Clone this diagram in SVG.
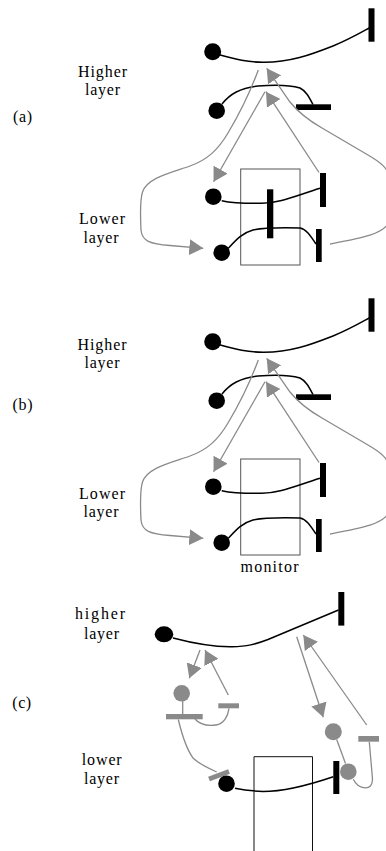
<svg xmlns="http://www.w3.org/2000/svg" width="386" height="851" viewBox="0 0 386 851">
  <style>
    .lbl { font-family: "Liberation Serif", "Times New Roman", serif; font-size: 16px; fill: #000; text-anchor: middle; }
    .wire { fill: none; stroke: #000; stroke-width: 1.5; }
    .link { fill: none; stroke: #8a8a8a; stroke-width: 1.3; }
    .bar { fill: #000; }
    .gbar { fill: #8a8a8a; }
    .dot { fill: #000; }
    .gdot { fill: #8a8a8a; }
    .box { fill: none; stroke: #555; stroke-width: 1; }
    .box-c { fill: none; stroke: #111; stroke-width: 1; }
  </style>
  <defs>
    <marker id="head" viewBox="0 0 14 16" refX="14" refY="8" markerWidth="14" markerHeight="16" markerUnits="userSpaceOnUse" orient="auto">
      <path d="M0,0 L14,8 L0,16 z" fill="#8a8a8a"/>
    </marker>
  </defs>

  <!-- ===== Panel (a) ===== -->
  <g id="a-labels">
    <text class="lbl" x="102.5" y="76.5" textLength="49" lengthAdjust="spacing">Higher</text>
    <text class="lbl" x="102.5" y="94.5" textLength="35" lengthAdjust="spacing">layer</text>
    <text class="lbl" x="22.5" y="121.5" textLength="19" lengthAdjust="spacing">(a)</text>
    <text class="lbl" x="102" y="224" textLength="46" lengthAdjust="spacing">Lower</text>
    <text class="lbl" x="101" y="242.5" textLength="35" lengthAdjust="spacing">layer</text>
  </g>
  <g id="a-high-1">
    <circle class="dot" cx="212.7" cy="51.7" r="8.5"/>
    <path class="wire" d="M220,55 C235,59 245,62 263,62.3 C290,62.5 310,55 333,46 C350,39 360,33 371,27"/>
    <rect class="bar" x="368.5" y="8.3" width="6" height="33.4"/>
  </g>
  <g id="a-high-2">
    <circle class="dot" cx="216.7" cy="110.7" r="8.3"/>
    <path class="wire" d="M222,104 C230,94 240,88 258,86 C275,84.5 290,85 300,88 C306,91 309,97 313,104.5"/>
    <rect class="bar" x="296" y="104.3" width="35" height="5.7"/>
  </g>
  <g id="a-monitor">
    <rect class="box" x="240.7" y="169" width="59.3" height="96"/>
    <rect class="bar" x="267" y="189.3" width="6.3" height="49"/>
  </g>
  <g id="a-low-1">
    <circle class="dot" cx="213.3" cy="196.7" r="8.3"/>
    <path class="wire" d="M221.7,200.7 C232,203 245,203.5 262,203.3 C280,203 295,196 320,188.3"/>
    <rect class="bar" x="320" y="173" width="6" height="34"/>
  </g>
  <g id="a-low-2">
    <circle class="dot" cx="221.7" cy="252.7" r="8.3"/>
    <path class="wire" d="M228.3,248.3 C236,240 242,233 253,230 C262,228 280,227.5 300,228 C306,229 310,235 316,244"/>
    <rect class="bar" x="316" y="229" width="5.7" height="33"/>
  </g>
  <g id="a-links">
    <path class="link" marker-end="url(#head)" d="M258.3,70 C252,87 240,113 228,133 C218,150 207,160 190,166 C170,173 147,178 142.5,192 C140,200 140.5,220 141,230 C142,241 150,244 170,245.5 L203.3,248.3"/>
    <path class="link" marker-end="url(#head)" d="M265,91.7 L213.6,181.8"/>
    <path class="link" marker-end="url(#head)" d="M319,172.5 L266,91.7"/>
    <path class="link" marker-end="url(#head)" d="M330,244 C362,238 384,234 389,222 C392,212 392,190 390,178 C388,168 380,162 368,155 L322,128 C308,120 298,112 290,102 L266.7,68.3"/>
  </g>

  <!-- ===== Panel (b) ===== -->
  <g id="b-labels">
    <text class="lbl" x="102" y="350" textLength="49" lengthAdjust="spacing">Higher</text>
    <text class="lbl" x="102" y="368" textLength="35" lengthAdjust="spacing">layer</text>
    <text class="lbl" x="22.5" y="410" textLength="20" lengthAdjust="spacing">(b)</text>
    <text class="lbl" x="102" y="498.5" textLength="46" lengthAdjust="spacing">Lower</text>
    <text class="lbl" x="101" y="516.5" textLength="35" lengthAdjust="spacing">layer</text>
    <text class="lbl" x="269.5" y="571.5" textLength="58" lengthAdjust="spacing">monitor</text>
  </g>
  <g transform="translate(0,290)">
    <g id="b-high-1">
      <circle class="dot" cx="212.7" cy="51.7" r="8.5"/>
      <path class="wire" d="M220,55 C235,59 245,62 263,62.3 C290,62.5 310,55 333,46 C350,39 360,33 371,27"/>
      <rect class="bar" x="368.5" y="8.3" width="6" height="33.4"/>
    </g>
    <g id="b-high-2">
      <circle class="dot" cx="216.7" cy="110.7" r="8.3"/>
      <path class="wire" d="M222,104 C230,94 240,88 258,86 C275,84.5 290,85 300,88 C306,91 309,97 313,104.5"/>
      <rect class="bar" x="296" y="104.3" width="35" height="5.7"/>
    </g>
    <g id="b-monitor">
      <rect class="box" x="240.7" y="169" width="59.3" height="96"/>
    </g>
    <g id="b-low-1">
      <circle class="dot" cx="213.3" cy="196.7" r="8.3"/>
      <path class="wire" d="M221.7,200.7 C232,203 245,203.5 262,203.3 C280,203 295,196 320,188.3"/>
      <rect class="bar" x="320" y="173" width="6" height="34"/>
    </g>
    <g id="b-low-2">
      <circle class="dot" cx="221.7" cy="252.7" r="8.3"/>
      <path class="wire" d="M228.3,248.3 C236,240 242,233 253,230 C262,228 280,227.5 300,228 C306,229 310,235 316,244"/>
      <rect class="bar" x="316" y="229" width="5.7" height="33"/>
    </g>
    <g id="b-links">
      <path class="link" marker-end="url(#head)" d="M258.3,70 C252,87 240,113 228,133 C218,150 207,160 190,166 C170,173 147,178 142.5,192 C140,200 140.5,220 141,230 C142,241 150,244 170,245.5 L203.3,248.3"/>
      <path class="link" marker-end="url(#head)" d="M265,91.7 L213.6,181.8"/>
      <path class="link" marker-end="url(#head)" d="M319,172.5 L266,91.7"/>
      <path class="link" marker-end="url(#head)" d="M330,244 C362,238 384,234 389,222 C392,212 392,190 390,178 C388,168 380,162 368,155 L322,128 C308,120 298,112 290,102 L266.7,68.3"/>
    </g>
  </g>

  <!-- ===== Panel (c) ===== -->
  <g id="c-labels">
    <text class="lbl" x="100" y="618.5" textLength="50" lengthAdjust="spacing">higher</text>
    <text class="lbl" x="101.5" y="638.5" textLength="35" lengthAdjust="spacing">layer</text>
    <text class="lbl" x="21.7" y="708" textLength="19" lengthAdjust="spacing">(c)</text>
    <text class="lbl" x="101.7" y="765" textLength="40" lengthAdjust="spacing">lower</text>
    <text class="lbl" x="101.5" y="783.5" textLength="35" lengthAdjust="spacing">layer</text>
  </g>
  <g id="c-high">
    <ellipse class="dot" cx="164" cy="634.3" rx="9.3" ry="8"/>
    <path class="wire" d="M173,638 C192,643 212,647 232,646.7 C247,646.4 255,644.5 268,639.5 L338.5,610"/>
    <rect class="bar" x="338.3" y="592" width="6" height="33.6"/>
  </g>
  <g id="c-proxy-left">
    <circle class="gdot" cx="181.7" cy="693.3" r="8.3"/>
    <line class="link" x1="182.7" y1="700" x2="182.7" y2="714"/>
    <rect class="gbar" x="166" y="714" width="36.7" height="5.3"/>
    <rect class="gbar" x="218.3" y="703.3" width="20.7" height="5"/>
    <path class="link" d="M195,719 C200,725 208,726 216,725 C224,724 228,716 229,708.3"/>
  </g>
  <g id="c-monitor">
    <path class="box-c" d="M254,851 V756.7 H312.5 V851"/>
  </g>
  <g id="c-low">
    <line x1="209" y1="779" x2="229" y2="771.5" stroke="#8a8a8a" stroke-width="5"/>
    <circle class="dot" cx="226.5" cy="783.7" r="8.3"/>
    <path class="wire" d="M235,788.3 C243,790 250,791 263,791.5 C280,791.5 300,788 333.3,776.7"/>
    <rect class="bar" x="333.3" y="761" width="6" height="33"/>
  </g>
  <g id="c-proxy-right">
    <circle class="gdot" cx="333.3" cy="731.7" r="8.5"/>
    <line class="link" x1="336.7" y1="739.5" x2="345.5" y2="763.5"/>
    <circle class="gdot" cx="348.3" cy="771.7" r="8.3"/>
    <path class="link" d="M353.3,779.3 C356,785 359,787.5 365,787.8 C370,788 372.5,785 372.5,779 L369.3,741.7"/>
    <rect class="gbar" x="358.3" y="736" width="20.7" height="5.7"/>
  </g>
  <g id="c-links">
    <path class="link" d="M178.3,719.5 C182,735 187,750 193.3,758.3 C199,764 208,768 216.7,772"/>
    <path class="link" marker-end="url(#head)" d="M200,650 L189.3,678.3"/>
    <path class="link" marker-end="url(#head)" d="M228.3,695 L205,650"/>
    <path class="link" marker-end="url(#head)" d="M296.7,636.7 L323.3,717.3"/>
    <path class="link" marker-end="url(#head)" d="M366.7,725 L303.3,635"/>
  </g>
</svg>
